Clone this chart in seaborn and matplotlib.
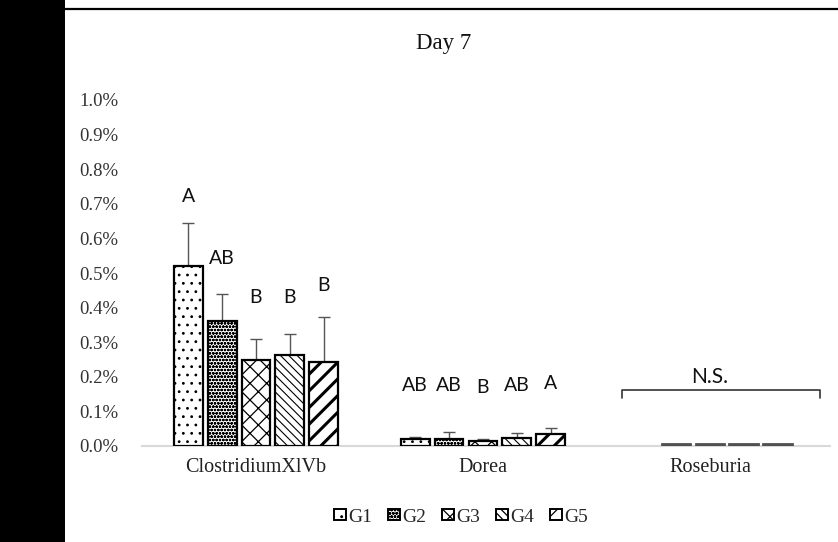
import numpy as np
import pandas as pd
import matplotlib
matplotlib.use("Agg")
import matplotlib.pyplot as plt
from matplotlib.patches import Patch, Rectangle
from matplotlib.lines import Line2D
import seaborn as sns

# Relative abundance (%) on day 7, mean and upper error per group
taxa = ["ClostridiumXlVb", "Dorea", "Roseburia"]
groups = ["G1", "G2", "G3", "G4", "G5"]
clostridium_mean = [0.52, 0.36, 0.25, 0.263, 0.243]
clostridium_err = [0.125, 0.08, 0.058, 0.062, 0.13]
dorea_mean = [0.02, 0.02, 0.015, 0.023, 0.035]
dorea_err = [0.006, 0.02, 0.005, 0.014, 0.017]
roseburia_mean = [0.0, 0.005, 0.005, 0.005, 0.005]
roseburia_err = [0.0, 0.0, 0.0, 0.0, 0.0]

# Significance letters and the height they are written at
clostridium_letters = ["A", "AB", "B", "B", "B"]
clostridium_letter_y = [0.72, 0.543, 0.428, 0.428, 0.465]
dorea_letters = ["AB", "AB", "B", "AB", "A"]
dorea_letter_y = [0.176, 0.176, 0.168, 0.176, 0.182]

y_ticks = [0.0, 0.1, 0.2, 0.3, 0.4, 0.5, 0.6, 0.7, 0.8, 0.9, 1.0]
hatches = ["..", "ooooo", "xx", "\\\\\\\\", "//"]
hatch_widths = [0.8, 0.8, 0.9, 0.8, 2.2]

means = [clostridium_mean, dorea_mean, roseburia_mean]
errs = [clostridium_err, dorea_err, roseburia_err]
df = pd.DataFrame(
    [(t, g, means[i][j]) for i, t in enumerate(taxa) for j, g in enumerate(groups)],
    columns=["taxon", "group", "abundance"],
)

sns.set_theme(style="white")
plt.rcParams["font.family"] = ["Liberation Serif", "DejaVu Serif"]
plt.rcParams["hatch.linewidth"] = 0.9

W, H = 838, 542
fig = plt.figure(figsize=(W / 100, H / 100), dpi=100)
fig.patch.set_facecolor("white")
ax = fig.add_axes([142 / W, 1 - 446 / H, (830 - 142) / W, (446 - 100) / H])

sns.barplot(
    data=df, x="taxon", y="abundance", hue="group",
    palette={g: "white" for g in groups}, width=0.745, gap=0.15,
    errorbar=None, edgecolor="black", linewidth=1.6, legend=False, ax=ax,
)
bar_groups = list(ax.containers)

for gi, cont in enumerate(bar_groups):
    for ti, bar in enumerate(cont):
        bar.set_zorder(3)
        if ti == 2:
            # near-zero bars show only as a grey outline
            bar.set_facecolor("#505050")
            bar.set_edgecolor("#505050")
            bar.set_linewidth(2.0)
            if means[ti][gi] == 0:
                bar.set_visible(False)
        else:
            bar.set_hatch(hatches[gi])
            if hasattr(bar, "set_hatch_linewidth"):
                bar.set_hatch_linewidth(hatch_widths[gi])
        x = bar.get_x() + bar.get_width() / 2
        e = errs[ti][gi]
        if e > 0:
            ax.errorbar(x, means[ti][gi], yerr=[[0], [e]], fmt="none",
                        ecolor="#555555", elinewidth=1.0, capsize=4, capthick=1.0,
                        zorder=2)

# Group letters above the bars
letter_font = dict(family=["Lato", "DejaVu Sans"], fontsize=14, color="#111111",
                   ha="center", va="center")
for gi, cont in enumerate(bar_groups):
    for ti, (letters, ly) in enumerate([(clostridium_letters, clostridium_letter_y),
                                        (dorea_letters, dorea_letter_y)]):
        bar = cont[ti]
        ax.text(bar.get_x() + bar.get_width() / 2, ly[gi], letters[gi], **letter_font)

# Not-significant bracket over Roseburia
bx0, bx1, by, tick = 1.612, 2.485, 0.162, 0.022
ax.plot([bx0, bx0, bx1, bx1], [by - tick, by, by, by - tick], color="#333333",
        lw=1.2, clip_on=False)
ax.text((bx0 + bx1) / 2 - 0.05, 0.2, "N.S.", family=["Lato", "DejaVu Sans"],
        fontsize=15, color="#111111", ha="center", va="center")

ax.set_xlim(-0.502, 2.529)
ax.set_ylim(0, 1.0)
ax.set_yticks(y_ticks)
ax.set_yticklabels([f"{v:.1f}%" for v in y_ticks], fontsize=13.5, color="#333333")
ax.set_xlabel("")
ax.set_ylabel("")
ax.tick_params(axis="y", length=0, pad=17)
ax.tick_params(axis="x", length=0, pad=9, labelsize=14.5, labelcolor="#222222")
for s in ["left", "right", "top"]:
    ax.spines[s].set_visible(False)
ax.spines["bottom"].set_color("#d9d9d9")
ax.spines["bottom"].set_linewidth(1.5)
ax.spines["bottom"].set_zorder(1)

fig.text(444 / W, 1 - 44 / H, "Day 7", fontsize=16.5, ha="center", va="center",
         color="#111111")

handles = [Patch(facecolor="white", edgecolor="black", hatch=h, linewidth=1.4)
           for h in hatches]
fig.legend(handles, groups, loc="center", bbox_to_anchor=(461 / W, 1 - 517 / H),
           ncol=5, frameon=False, fontsize=14, handlelength=0.6, handleheight=0.5,
           handletextpad=0.1, columnspacing=0.85)

# Dark band on the left edge and the rule across the top
fig.add_artist(Rectangle((0, 0), 65 / W, 1, transform=fig.transFigure,
                         facecolor="black", edgecolor="none"))
fig.add_artist(Line2D([65 / W, 1], [1 - 8.5 / H] * 2, transform=fig.transFigure,
                      color="black", lw=1.6))

fig.savefig("out.png", dpi=100)
